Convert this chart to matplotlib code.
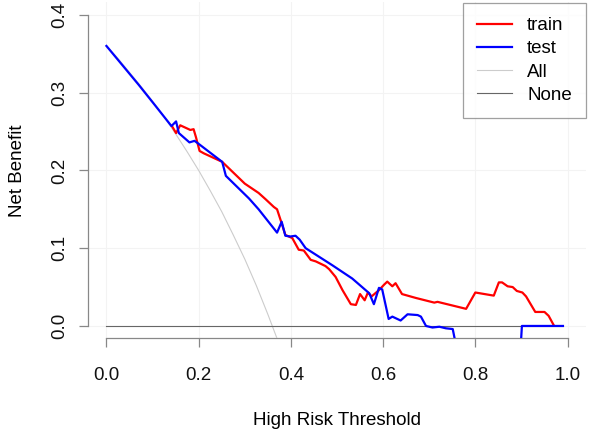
import matplotlib
matplotlib.use("Agg")
import matplotlib.pyplot as plt

plt.rcParams['font.family'] = ['Liberation Sans', 'DejaVu Sans']

# ---- data ----
train_x = [0.142, 0.151, 0.160, 0.182, 0.189, 0.194, 0.202, 0.211, 0.251, 0.300, 0.330,
           0.345, 0.363, 0.370, 0.380, 0.388, 0.403, 0.417, 0.428, 0.443, 0.454, 0.475,
           0.483, 0.497, 0.512, 0.530, 0.541, 0.550, 0.560, 0.567, 0.575, 0.591, 0.602,
           0.609, 0.620, 0.627, 0.641, 0.671, 0.711, 0.718, 0.780, 0.800, 0.840, 0.851,
           0.858, 0.870, 0.881, 0.890, 0.902, 0.910, 0.920, 0.930, 0.950, 0.959, 0.970]
train_y = [0.257, 0.248, 0.258, 0.252, 0.253, 0.243, 0.225, 0.222, 0.211, 0.183, 0.171,
           0.163, 0.153, 0.150, 0.132, 0.117, 0.113, 0.098, 0.097, 0.085, 0.083, 0.077,
           0.073, 0.063, 0.046, 0.028, 0.027, 0.041, 0.033, 0.043, 0.038, 0.046, 0.053,
           0.057, 0.051, 0.055, 0.041, 0.036, 0.030, 0.031, 0.022, 0.043, 0.039, 0.056,
           0.056, 0.051, 0.050, 0.045, 0.043, 0.038, 0.028, 0.018, 0.018, 0.013, 0.001]

test_x = [0.0, 0.035, 0.070, 0.105, 0.141, 0.151, 0.157, 0.180, 0.191, 0.198, 0.251,
          0.259, 0.309, 0.330, 0.370, 0.380, 0.388, 0.399, 0.410, 0.419, 0.432, 0.490,
          0.533, 0.570, 0.580, 0.591, 0.598, 0.612, 0.620, 0.638, 0.653, 0.675, 0.682,
          0.693, 0.707, 0.722, 0.736, 0.751, 0.770, 0.895, 0.901, 0.990]
test_y = [0.360, 0.335, 0.310, 0.284, 0.257, 0.263, 0.248, 0.236, 0.238, 0.235, 0.211,
          0.193, 0.164, 0.150, 0.120, 0.134, 0.116, 0.115, 0.116, 0.111, 0.100, 0.078,
          0.061, 0.042, 0.028, 0.049, 0.047, 0.009, 0.012, 0.007, 0.015, 0.014, 0.012,
          0.000, -0.002, -0.001, -0.003, -0.004, -0.060, -0.060, 0.000, 0.000]

all_x = [0.0, 0.025, 0.05, 0.075, 0.1, 0.125, 0.15, 0.175, 0.2, 0.225, 0.25, 0.275,
         0.3, 0.325, 0.35, 0.375, 0.4]
all_y = [0.360, 0.344, 0.326, 0.308, 0.289, 0.269, 0.247, 0.224, 0.200, 0.174, 0.147,
         0.117, 0.086, 0.052, 0.015, -0.024, -0.067]

none_x = [0.0, 0.99]
none_y = [0.0, 0.0]

x_ticks = [0.0, 0.2, 0.4, 0.6, 0.8, 1.0]
y_ticks = [0.0, 0.1, 0.2, 0.3, 0.4]

# ---- figure ----
fig = plt.figure(figsize=(5.9, 4.32), dpi=100)
ax = fig.add_axes([88/590, 1 - 338.4/432, (586 - 88)/590, (338.4 - 2.4)/432])

ax.set_xlim(-0.04, 1.04)
ax.set_ylim(-0.016, 0.416)

for t in x_ticks:
    ax.axvline(t, color='#f3f3f3', lw=0.8, zorder=0)
for t in y_ticks:
    ax.axhline(t, color='#f3f3f3', lw=0.8, zorder=0)

ax.plot(train_x, train_y, color='#ff0000', lw=1.6, label='train', zorder=4)
ax.plot(test_x, test_y, color='#0000ff', lw=1.6, label='test', zorder=5)
ax.plot(all_x, all_y, color='#cccccc', lw=0.8, label='All', zorder=3)
ax.plot(none_x, none_y, color='#666666', lw=0.8, label='None', zorder=3)

for s in ['top', 'right']:
    ax.spines[s].set_visible(False)
ax.spines['left'].set_bounds(0, 0.4)
ax.spines['bottom'].set_bounds(0, 1.0)
for s in ['left', 'bottom']:
    ax.spines[s].set_color('#888888')
    ax.spines[s].set_linewidth(0.9)

ax.set_xticks(x_ticks)
ax.set_xticklabels([f"{t:.1f}" for t in x_ticks])
ax.set_yticks(y_ticks)
ax.set_yticklabels([f"{t:.1f}" for t in y_ticks], rotation=90, va='center')
ax.tick_params(axis='both', length=6.5, width=0.9, color='#888888',
               labelsize=13.5, labelcolor='#111111', direction='out')
ax.tick_params(axis='x', pad=14)
ax.tick_params(axis='y', pad=8)

ax.set_xlabel('High Risk Threshold', fontsize=13.5, labelpad=20)
ax.set_ylabel('Net Benefit', fontsize=13.5, labelpad=18)

leg = ax.legend(loc='upper right', bbox_to_anchor=(1.0, 0.998), fontsize=13.5,
                frameon=True, fancybox=False, borderaxespad=0.0,
                handlelength=1.9, handletextpad=0.8,
                labelspacing=0.32, borderpad=0.75)
leg.get_frame().set_edgecolor('#888888')
leg.get_frame().set_linewidth(0.9)

fig.savefig('out.png', dpi=100)
